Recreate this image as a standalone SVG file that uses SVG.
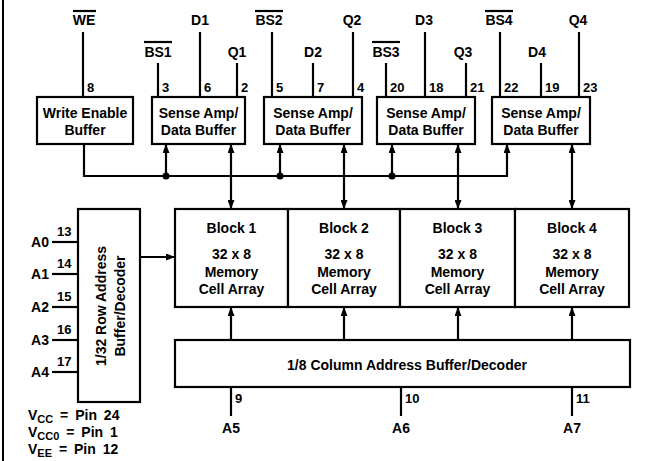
<svg xmlns="http://www.w3.org/2000/svg" width="648" height="461" viewBox="0 0 648 461">
<defs>
<style>
text{font-family:"Liberation Sans",Arial,sans-serif;font-weight:bold;fill:#000}
.t{font-size:14px;text-anchor:middle}
.lbl{font-size:14px;text-anchor:middle}
.pin{font-size:13px}
.pw{font-size:14px;word-spacing:3px}
.box{fill:#fff;stroke:#000;stroke-width:2.2}
.ln{stroke:#000;stroke-width:2.2;fill:none}
.arr{stroke:#000;stroke-width:2.2;fill:none;marker-end:url(#ah)}
.bi{stroke:#000;stroke-width:2.2;fill:none;marker-end:url(#ah);marker-start:url(#ah)}
</style>
<marker id="ah" markerUnits="userSpaceOnUse" markerWidth="9" markerHeight="7" refX="9" refY="3.5" orient="auto-start-reverse">
<path d="M0,0 L9,3.5 L0,7 z" fill="#000"/>
</marker>
</defs>
<rect width="648" height="461" fill="#fff"/>
<line x1="3" y1="0" x2="3" y2="461" stroke="#000" stroke-width="2"/>

<g id="connectors">
<line class="ln" x1="83" y1="32" x2="83" y2="97"/>
<line class="ln" x1="158" y1="63" x2="158" y2="97"/>
<line class="ln" x1="200" y1="32" x2="200" y2="97"/>
<line class="ln" x1="237" y1="63" x2="237" y2="97"/>
<line class="ln" x1="272" y1="32" x2="272" y2="97"/>
<line class="ln" x1="313" y1="63" x2="313" y2="97"/>
<line class="ln" x1="353" y1="32" x2="353" y2="97"/>
<line class="ln" x1="386" y1="63" x2="386" y2="97"/>
<line class="ln" x1="425" y1="32" x2="425" y2="97"/>
<line class="ln" x1="466" y1="63" x2="466" y2="97"/>
<line class="ln" x1="500" y1="32" x2="500" y2="97"/>
<line class="ln" x1="541" y1="63" x2="541" y2="97"/>
<line class="ln" x1="579" y1="32" x2="579" y2="97"/>
<polyline class="ln" points="84,144 84,176 507,176"/>
<line class="arr" x1="166" y1="176" x2="166" y2="144"/>
<line class="arr" x1="280" y1="176" x2="280" y2="144"/>
<line class="arr" x1="392" y1="176" x2="392" y2="144"/>
<line class="arr" x1="507" y1="177" x2="507" y2="144"/>
<circle cx="166" cy="176" r="3.5"/>
<circle cx="280" cy="176" r="3.5"/>
<circle cx="392" cy="176" r="3.5"/>
<line class="bi" x1="231" y1="144" x2="231" y2="209"/>
<line class="bi" x1="344" y1="144" x2="344" y2="209"/>
<line class="bi" x1="458" y1="144" x2="458" y2="209"/>
<line class="bi" x1="572" y1="144" x2="572" y2="209"/>
<line class="arr" x1="140" y1="257" x2="175" y2="257"/>
<line class="ln" x1="52" y1="242" x2="78" y2="242"/>
<line class="ln" x1="52" y1="274" x2="78" y2="274"/>
<line class="ln" x1="52" y1="307" x2="78" y2="307"/>
<line class="ln" x1="52" y1="340" x2="78" y2="340"/>
<line class="ln" x1="52" y1="372" x2="78" y2="372"/>
<line class="arr" x1="231" y1="340" x2="231" y2="307"/>
<line class="arr" x1="344" y1="340" x2="344" y2="307"/>
<line class="arr" x1="458" y1="340" x2="458" y2="307"/>
<line class="arr" x1="572" y1="340" x2="572" y2="307"/>
<line class="ln" x1="231" y1="387" x2="231" y2="416"/>
<line class="ln" x1="401" y1="387" x2="401" y2="416"/>
<line class="ln" x1="572" y1="387" x2="572" y2="416"/>
</g>

<g id="pin-labels">
<text class="lbl" x="84" y="25">WE</text><line class="ln" x1="73" y1="11" x2="96" y2="11" stroke-width="1.6"/>
<text class="lbl" x="158" y="57">BS1</text><line class="ln" x1="144" y1="42" x2="172" y2="42" stroke-width="1.6"/>
<text class="lbl" x="200" y="25">D1</text>
<text class="lbl" x="237" y="57">Q1</text>
<text class="lbl" x="269" y="25">BS2</text><line class="ln" x1="255" y1="11" x2="283" y2="11" stroke-width="1.6"/>
<text class="lbl" x="313" y="57">D2</text>
<text class="lbl" x="352" y="25">Q2</text>
<text class="lbl" x="386" y="57">BS3</text><line class="ln" x1="372" y1="42" x2="400" y2="42" stroke-width="1.6"/>
<text class="lbl" x="424" y="25">D3</text>
<text class="lbl" x="463" y="57">Q3</text>
<text class="lbl" x="499" y="25">BS4</text><line class="ln" x1="485" y1="11" x2="513" y2="11" stroke-width="1.6"/>
<text class="lbl" x="537" y="57">D4</text>
<text class="lbl" x="578" y="25">Q4</text>
<text class="pin" x="87" y="92">8</text>
<text class="pin" x="162" y="92">3</text>
<text class="pin" x="204" y="92">6</text>
<text class="pin" x="241" y="92">2</text>
<text class="pin" x="276" y="92">5</text>
<text class="pin" x="317" y="92">7</text>
<text class="pin" x="357" y="92">4</text>
<text class="pin" x="390" y="92">20</text>
<text class="pin" x="429" y="92">18</text>
<text class="pin" x="470" y="92">21</text>
<text class="pin" x="504" y="92">22</text>
<text class="pin" x="545" y="92">19</text>
<text class="pin" x="583" y="92">23</text>
<text class="lbl" x="40" y="247">A0</text><text class="pin" x="57" y="236">13</text>
<text class="lbl" x="40" y="279">A1</text><text class="pin" x="57" y="268">14</text>
<text class="lbl" x="40" y="312">A2</text><text class="pin" x="57" y="301">15</text>
<text class="lbl" x="40" y="345">A3</text><text class="pin" x="57" y="334">16</text>
<text class="lbl" x="40" y="377">A4</text><text class="pin" x="57" y="366">17</text>
<text class="pin" x="235" y="403">9</text>
<text class="pin" x="405" y="403">10</text>
<text class="pin" x="576" y="403">11</text>
<text class="lbl" x="231" y="433">A5</text>
<text class="lbl" x="401" y="433">A6</text>
<text class="lbl" x="572" y="433">A7</text>
</g>

<g id="we-buffer">
<rect class="box" x="37" y="97" width="96" height="47"/>
<text class="t" x="85" y="118">Write Enable</text>
<text class="t" x="85" y="135">Buffer</text>
</g>
<g id="sense-amp-1">
<rect class="box" x="152" y="97" width="93" height="47"/>
<text class="t" x="198.5" y="118">Sense Amp/</text>
<text class="t" x="198.5" y="135">Data Buffer</text>
</g>
<g id="sense-amp-2">
<rect class="box" x="264" y="97" width="98" height="47"/>
<text class="t" x="313" y="118">Sense Amp/</text>
<text class="t" x="313" y="135">Data Buffer</text>
</g>
<g id="sense-amp-3">
<rect class="box" x="377" y="97" width="98" height="47"/>
<text class="t" x="426" y="118">Sense Amp/</text>
<text class="t" x="426" y="135">Data Buffer</text>
</g>
<g id="sense-amp-4">
<rect class="box" x="492" y="97" width="98" height="47"/>
<text class="t" x="541" y="118">Sense Amp/</text>
<text class="t" x="541" y="135">Data Buffer</text>
</g>

<g id="row-decoder">
<rect class="box" x="78" y="209" width="62" height="193"/>
<text class="t" font-size="13" transform="translate(106,306) rotate(-90)">1/32 Row Address</text>
<text class="t" font-size="13" transform="translate(125,306) rotate(-90)">Buffer/Decoder</text>
</g>

<g id="block-1">
<rect class="box" x="175" y="209" width="113" height="98"/>
<text class="t" x="231.5" y="233">Block 1</text>
<text class="t" x="231.5" y="259">32 x 8</text>
<text class="t" x="231.5" y="277">Memory</text>
<text class="t" x="231.5" y="294">Cell Array</text>
</g>
<g id="block-2">
<rect class="box" x="288" y="209" width="112" height="98"/>
<text class="t" x="344" y="233">Block 2</text>
<text class="t" x="344" y="259">32 x 8</text>
<text class="t" x="344" y="277">Memory</text>
<text class="t" x="344" y="294">Cell Array</text>
</g>
<g id="block-3">
<rect class="box" x="400" y="209" width="115" height="98"/>
<text class="t" x="457.5" y="233">Block 3</text>
<text class="t" x="457.5" y="259">32 x 8</text>
<text class="t" x="457.5" y="277">Memory</text>
<text class="t" x="457.5" y="294">Cell Array</text>
</g>
<g id="block-4">
<rect class="box" x="515" y="209" width="114" height="98"/>
<text class="t" x="572" y="233">Block 4</text>
<text class="t" x="572" y="259">32 x 8</text>
<text class="t" x="572" y="277">Memory</text>
<text class="t" x="572" y="294">Cell Array</text>
</g>

<g id="column-decoder">
<rect class="box" x="175" y="340" width="455" height="47"/>
<text class="t" x="407" y="370">1/8 Column Address Buffer/Decoder</text>
</g>

<g id="power-notes">
<text class="pw" x="28" y="420">V<tspan font-size="11" dy="3">CC</tspan><tspan dy="-3"> = Pin 24</tspan></text>
<text class="pw" x="28" y="437">V<tspan font-size="11" dy="3">CC0</tspan><tspan dy="-3"> = Pin 1</tspan></text>
<text class="pw" x="28" y="454">V<tspan font-size="11" dy="3">EE</tspan><tspan dy="-3"> = Pin 12</tspan></text>
</g>
</svg>
